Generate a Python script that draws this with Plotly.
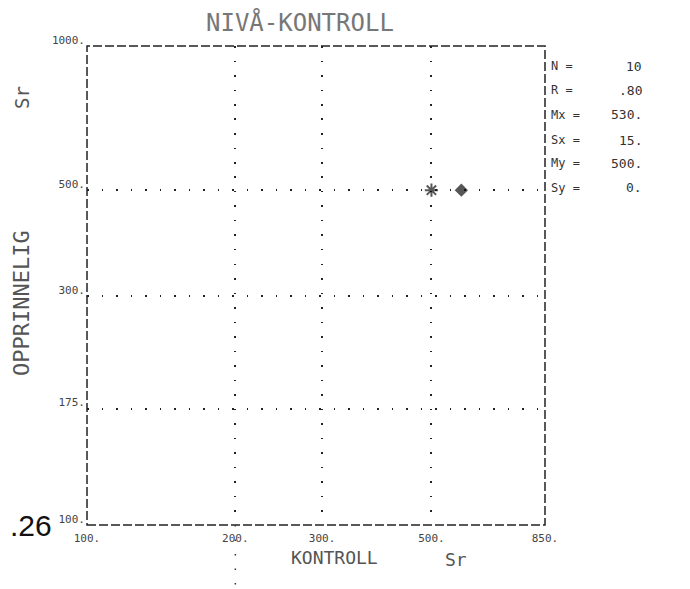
import plotly.graph_objects as go
import math

# ---- data ----
kontroll_sr = [500, 575]          # x values
opprinnelig_sr = [500, 500]       # y values
point_symbols = ["asterisk-open", "diamond"]

x_tickvals = [100, 200, 300, 500, 850]
x_ticktext = ["100.", "200.", "300.", "500.", "850."]
y_tickvals = [100, 175, 300, 500, 1000]
y_ticktext = ["100.", "175.", "300.", "500.", "1000."]

stat_labels = ["N =", "R =", "Mx =", "Sx =", "My =", "Sy ="]
stat_values = ["10", ".80", "530.", "15.", "500.", "0."]

title_text = "NIVÅ-KONTROLL"
x_title = "KONTROLL"
y_title = "OPPRINNELIG"
unit = "Sr"
page_fragment = ".26"

# ---- layout geometry ----
# the page has an 8 px body margin, so the figure is drawn 8 px in from the corner
OFF = 8
W, H = 690 - OFF, 589 - OFF
PL, PT, PR, PB = 87, 46, 545, 525     # plot frame in page pixels
L, T = PL - OFF, PT - OFF
pw, ph = PR - PL, PB - PT
R, B = W - L - pw, H - T - ph


def px(xp):
    return (xp - PL) / pw


def py(yp):
    return (PB - yp) / ph


fig = go.Figure()
fig.add_trace(go.Scatter(
    x=kontroll_sr, y=opprinnelig_sr, mode="markers",
    marker=dict(symbol=point_symbols, size=[11, 8], color="#111",
                line=dict(width=2, color="#111")),
    showlegend=False, hoverinfo="skip"))

mono = "DejaVu Sans Mono"
grid_dash = "1.5px,13px"

fig.update_xaxes(type="log", range=[math.log10(100), math.log10(850)],
                 tickvals=x_tickvals, ticktext=x_ticktext,
                 showgrid=True, gridcolor="#222", gridwidth=1.5, griddash=grid_dash,
                 zeroline=False, showline=False, ticks="", ticklabelstandoff=5,
                 tickfont=dict(family=mono, size=11, color="#444"))
fig.update_yaxes(type="log", range=[math.log10(100), math.log10(1000)],
                 tickvals=y_tickvals, ticktext=y_ticktext,
                 showgrid=True, gridcolor="#222", gridwidth=1.5, griddash=grid_dash,
                 zeroline=False, showline=False, ticks="", ticklabelshift=-6,
                 ticklabelstandoff=1,
                 tickfont=dict(family=mono, size=11, color="#444"))

shapes = [
    dict(type="rect", xref="paper", yref="paper", x0=0, x1=1, y0=0, y1=1,
         line=dict(color="#222", width=1.5, dash="9px,3px")),
    dict(type="line", xref="x", yref="paper", x0=200, x1=200, y0=0, y1=py(589),
         line=dict(color="#333", width=1.5, dash=grid_dash)),
]


def note(text, xp, yp, size, color="#555", angle=0, family=mono, xanchor="center"):
    return dict(text=text, x=px(xp), y=py(yp), xref="paper", yref="paper",
                xanchor=xanchor, yanchor="middle", showarrow=False, textangle=angle,
                font=dict(family=family, size=size, color=color))


ann = [
    note(title_text, 300, 23, 24, "#777"),
    note(x_title, 334, 557, 18),
    note(unit, 456, 559, 18),
    note(y_title, 22, 303, 22, angle=-90),
    note(unit, 22, 98, 19, angle=-90),
    note(page_fragment, OFF, 525, 30, "#111", family="Liberation Sans", xanchor="left"),
]

rows_y = [66, 90, 115, 140, 163, 188]
for lab, val, yy in zip(stat_labels, stat_values, rows_y):
    ann.append(note(lab, 549, yy, 12, "#333", xanchor="left"))
    ann.append(note(val, 644, yy, 13, "#333", xanchor="right"))

fig.update_layout(width=W, height=H, margin=dict(l=L, r=R, t=T, b=B),
                  paper_bgcolor="white", plot_bgcolor="white",
                  shapes=shapes, annotations=ann)

fig.write_html("out.html")
